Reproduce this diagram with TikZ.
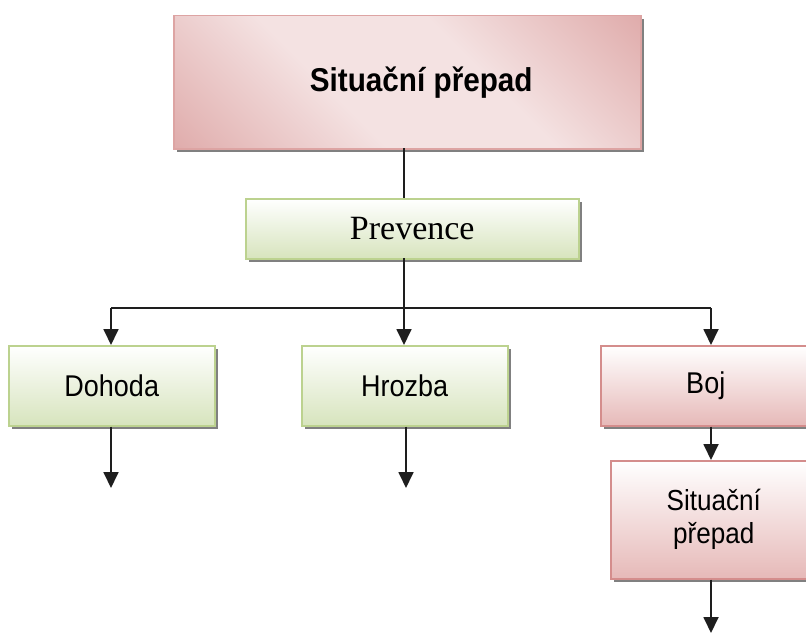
\documentclass[tikz,border=0pt]{standalone}
\usepackage{fontspec}
\setmainfont{Liberation Sans}
\newfontfamily\timesf{Liberation Serif}
\usetikzlibrary{arrows.meta,shadows}
\definecolor{pdark}{HTML}{D48D8C}
\definecolor{plight}{HTML}{F4E2E2}
\definecolor{gborder}{HTML}{BCD28F}
\definecolor{gfill}{HTML}{D7E4BD}
\definecolor{rfill}{HTML}{E6B9B8}
\definecolor{linec}{HTML}{1E1E1E}
\pgfdeclarehorizontalshading{pinkband}{100bp}{color(0bp)=(pdark); color(40bp)=(plight); color(60bp)=(plight); color(100bp)=(pdark)}
\newcommand{\cond}[1]{\scalebox{0.9}[1]{#1}}
\tikzset{
  shad/.style={drop shadow={shadow xshift=3pt,shadow yshift=-3pt,fill=black!50,opacity=1}},
  box/.style={shad,draw,line width=1.5pt,inner sep=0pt,anchor=north west,align=center},
  greenbox/.style={box,draw=gborder,top color=white,bottom color=gfill},
  redbox/.style={box,draw=pdark,top color=white,bottom color=rfill},
  titlebox/.style={box,draw=pdark!80,shading=pinkband,shading angle=45},
  conn/.style={draw=linec,line width=1.8pt},
  arr/.style={conn,-{Triangle[width=15pt,length=16pt]}},
  lbl/.style={font=\fontsize{30}{34}\selectfont}
}
\begin{document}
\begin{tikzpicture}[x=1pt,y=-1pt]
\useasboundingbox[fill=white] (0,0) rectangle (806,634);
\node[titlebox,minimum width=467pt,minimum height=133pt,font=\fontsize{33}{38}\selectfont\bfseries] (title) at (173,15) {\hspace*{28pt}\cond{Situační přepad}};
\node[greenbox,minimum width=333pt,minimum height=60pt,font=\fontsize{34}{40}\selectfont\timesf] (prev) at (245,198) {Prevence};
\node[greenbox,lbl,minimum width=206pt,minimum height=80pt] (doh) at (8,345) {\cond{Dohoda}};
\node[greenbox,lbl,minimum width=206pt,minimum height=80pt] (hro) at (301,345) {\cond{Hrozba}};
\node[redbox,lbl,minimum width=210pt,minimum height=80pt] (boj) at (600,345) {\cond{Boj}};
\node[redbox,font=\fontsize{29}{33}\selectfont,minimum width=206pt,minimum height=118pt] (sit) at (610,460) {\cond{Situační}\\\cond{přepad}};
\coordinate (t) at (404,148);
\coordinate (p) at (404,258);
\coordinate (j) at (404,308);
\coordinate (jd) at (111,308);
\coordinate (jb) at (711,308);
\coordinate (dend) at (111,488);
\coordinate (hend) at (406,488);
\coordinate (send) at (711,633);
\draw[conn] (t) -- (t |- prev.north);
\draw[conn] (p) -- (j);
\draw[conn] (jd) -- (jb);
\draw[arr] (jd) -- (jd |- doh.north);
\draw[arr] (j) -- (j |- hro.north);
\draw[arr] (jb) -- (jb |- boj.north);
\draw[arr] (dend |- doh.south) -- (dend);
\draw[arr] (hend |- hro.south) -- (hend);
\draw[arr] (send |- boj.south) -- (send |- sit.north);
\draw[arr] (send |- sit.south) -- (send);
\end{tikzpicture}
\end{document}
